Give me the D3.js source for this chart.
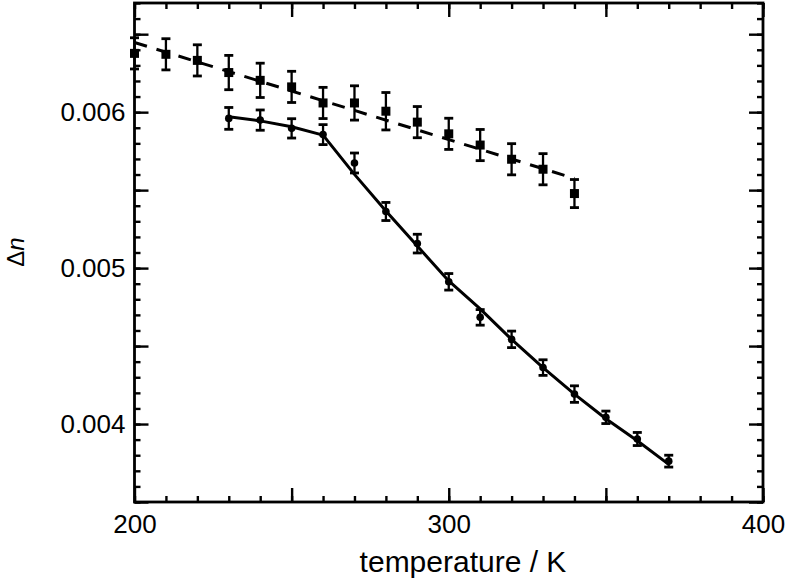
<!DOCTYPE html>
<html>
<head>
<meta charset="utf-8">
<script src="https://cdn.jsdelivr.net/npm/d3@7"></script>
<style>
  body { margin: 0; background: #fff; }
  svg { display: block; }
  text { font-family: "Liberation Sans", Arial, sans-serif; fill: #000; }
</style>
</head>
<body>
<svg width="792" height="584"></svg>
<script>
// data
var squareT   = [200, 210, 220, 230, 240, 250, 260, 270, 280, 290, 300, 310, 320, 330, 340];
var squareN   = [0.006377, 0.006371, 0.006332, 0.006254, 0.006204, 0.006162, 0.006059, 0.006059,
                 0.006006, 0.005936, 0.005861, 0.005789, 0.005698, 0.005634, 0.005478];
var squareErr = [0.00010, 0.00010, 0.00010, 0.00011, 0.00011, 0.00010, 0.00010, 0.00011,
                 0.00012, 0.00010, 0.00010, 0.00010, 0.00010, 0.00010, 0.00009];

var circleT   = [230, 240, 250, 260, 270, 280, 290, 300, 310, 320, 330, 340, 350, 360, 370];
var circleN   = [0.005960, 0.005949, 0.005896, 0.005856, 0.005674, 0.005363, 0.005157, 0.004912,
                 0.004684, 0.004543, 0.004362, 0.004192, 0.004043, 0.003904, 0.003762];
var circleErr = [0.000070, 0.000065, 0.000062, 0.000064, 0.000064, 0.000058, 0.000060, 0.000053,
                 0.000050, 0.000053, 0.000050, 0.000053, 0.000040, 0.000042, 0.000038];

// fitted curves
var dashFitT  = [200, 270, 340];
var dashFitN  = [0.006447, 0.006011, 0.005575];
var solidFitT = [230, 240, 250, 260, 270, 280, 290, 300, 310, 320, 330, 340, 350, 360, 370];
var solidFitN = [0.005970, 0.005944, 0.005906, 0.005853, 0.005601, 0.005366, 0.005141, 0.004918,
                 0.004738, 0.004543, 0.004362, 0.004192, 0.004034, 0.003893, 0.003741];

// ticks
var xMajorTicks = [200, 250, 300, 350, 400];
var xLabels     = [200, 300, 400];
var yMajorTicks = [0.0035, 0.004, 0.0045, 0.005, 0.0055, 0.006, 0.0065];
var yLabels     = [0.004, 0.005, 0.006];

var svg = d3.select("svg"),
    margin = {top: 3, right: 29, bottom: 82, left: 134.5},
    width = +svg.attr("width"),
    height = +svg.attr("height"),
    cWidth = width - margin.left - margin.right,
    cHeight = height - margin.top - margin.bottom;

var g = svg.append("g").attr("transform", "translate(" + margin.left + "," + margin.top + ")");

var x = d3.scaleLinear().domain([200, 400]).range([0, cWidth]);
var y = d3.scaleLinear().domain([0.0035, 0.0067]).range([cHeight, 0]);

var xMinor = d3.range(200, 401, 10);
var yMinor = d3.range(35, 68, 1).map(function(d) { return d / 10000; });

function isLabel(list, d) {
  return list.some(function(v) { return Math.abs(v - d) < 1e-9; });
}

// 目盛り (inward ticks on all four sides)
function addAxis(axis, transform) {
  var a = g.append("g").attr("transform", transform || null).call(axis);
  a.select(".domain").remove();
  a.selectAll("line").attr("stroke", "#000").attr("stroke-width", 2.4);
  return a;
}

addAxis(d3.axisBottom(x).tickValues(xMinor).tickSize(-6).tickFormat(""), "translate(0," + cHeight + ")");
addAxis(d3.axisTop(x).tickValues(xMinor).tickSize(-6).tickFormat(""));
addAxis(d3.axisLeft(y).tickValues(yMinor).tickSize(-6).tickFormat(""));
addAxis(d3.axisRight(y).tickValues(yMinor).tickSize(-6).tickFormat(""), "translate(" + cWidth + ",0)");

addAxis(d3.axisBottom(x).tickValues(xMajorTicks).tickSize(-14).tickPadding(13)
  .tickFormat(function(d) { return isLabel(xLabels, d) ? d : ""; }), "translate(0," + cHeight + ")");
addAxis(d3.axisTop(x).tickValues(xMajorTicks).tickSize(-14).tickFormat(""));
addAxis(d3.axisLeft(y).tickValues(yMajorTicks).tickSize(-14).tickPadding(9)
  .tickFormat(function(d) { return isLabel(yLabels, d) ? d3.format(".3f")(d) : ""; }));
addAxis(d3.axisRight(y).tickValues(yMajorTicks).tickSize(-14).tickFormat(""), "translate(" + cWidth + ",0)");

svg.selectAll(".tick text")
  .attr("fill", "#000")
  .style("font-size", "26px")
  .style("font-family", "'Liberation Sans', Arial, sans-serif");

// frame
g.append("rect")
  .attr("width", cWidth)
  .attr("height", cHeight)
  .attr("fill", "none")
  .attr("stroke", "#000")
  .attr("stroke-width", 2.8);

// fit lines
var line = d3.line()
  .x(function(d) { return x(d[0]); })
  .y(function(d) { return y(d[1]); });

g.append("path")
  .datum(dashFitT.map(function(t, i) { return [t, dashFitN[i]]; }))
  .attr("d", line)
  .attr("fill", "none")
  .attr("stroke", "#000")
  .attr("stroke-width", 3)
  .attr("stroke-dasharray", "13,10");

g.append("path")
  .datum(solidFitT.map(function(t, i) { return [t, solidFitN[i]]; }))
  .attr("d", line)
  .attr("fill", "none")
  .attr("stroke", "#000")
  .attr("stroke-width", 3)
  .attr("stroke-linejoin", "round");

// error bars
function errorBars(ts, vs, es) {
  var data = ts.map(function(t, i) { return {t: t, v: vs[i], e: es[i]}; });
  var eb = g.append("g").selectAll("g").data(data).enter().append("g")
    .attr("stroke", "#000");
  eb.append("line")
    .attr("x1", function(d) { return x(d.t); })
    .attr("x2", function(d) { return x(d.t); })
    .attr("y1", function(d) { return y(d.v - d.e); })
    .attr("y2", function(d) { return y(d.v + d.e); })
    .attr("stroke-width", 2.3);
  [-1, 1].forEach(function(s) {
    eb.append("line")
      .attr("x1", function(d) { return x(d.t) - 4.5; })
      .attr("x2", function(d) { return x(d.t) + 4.5; })
      .attr("y1", function(d) { return y(d.v + s * d.e); })
      .attr("y2", function(d) { return y(d.v + s * d.e); })
      .attr("stroke-width", 2.8);
  });
}
errorBars(squareT, squareN, squareErr);
errorBars(circleT, circleN, circleErr);

// markers
g.append("g").selectAll("rect")
  .data(squareT.map(function(t, i) { return [t, squareN[i]]; }))
  .enter().append("rect")
  .attr("x", function(d) { return x(d[0]) - 4.5; })
  .attr("y", function(d) { return y(d[1]) - 4.5; })
  .attr("width", 9)
  .attr("height", 9)
  .attr("fill", "#000");

g.append("g").selectAll("circle")
  .data(circleT.map(function(t, i) { return [t, circleN[i]]; }))
  .enter().append("circle")
  .attr("cx", function(d) { return x(d[0]); })
  .attr("cy", function(d) { return y(d[1]); })
  .attr("r", 3.8)
  .attr("fill", "#000");

// axis titles
svg.append("text")
  .attr("x", 463)
  .attr("y", 572)
  .attr("text-anchor", "middle")
  .style("font-size", "30px")
  .text("temperature / K");

var yt = svg.append("text")
  .attr("transform", "translate(23.5,252) rotate(-90)")
  .attr("text-anchor", "middle")
  .style("font-size", "24px");
yt.append("tspan").text("Δ");
yt.append("tspan").style("font-style", "italic").text("n");
</script>
</body>
</html>
